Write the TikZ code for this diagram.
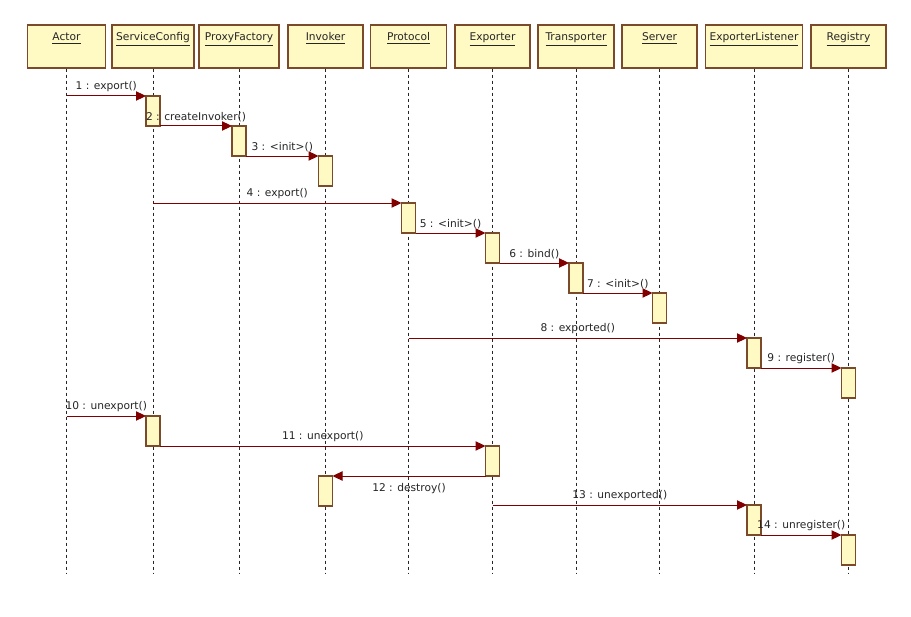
\documentclass[tikz,border=0pt]{standalone}
\usepackage{fontspec}
\setmainfont{DejaVu Sans}
\usetikzlibrary{arrows.meta}
\definecolor{boxfill}{RGB}{255,249,196}
\definecolor{boxline}{RGB}{122,74,42}
\definecolor{msg}{RGB}{128,0,0}
\begin{document}
\begin{tikzpicture}[x=0.75pt,y=-0.75pt,
  hdr/.style={draw=boxline, line width=1.1pt, fill=boxfill, inner sep=0pt,
    text height=12pt, text depth=20.25pt, font=\fontsize{8}{9.6}\selectfont, text=black!85},
  act/.style={draw=boxline, line width=0.8pt, fill=boxfill, minimum width=10.5pt,
    minimum height=22.5pt, inner sep=0pt, outer sep=0pt, anchor=north},
  lifeline/.style={dash pattern=on 2.25pt off 2.25pt, line width=0.75pt, black!85},
  msgarrow/.style={draw=msg, line width=0.75pt, -{Triangle[length=7.5pt,width=7pt]}},
  lbl/.style={font=\fontsize{8}{9.6}\selectfont, text=black!85, inner sep=0pt}]
\useasboundingbox (0,0) rectangle (911,617);
\fill[white] (0,0) rectangle (911,617);
% header boxes
\node[hdr, minimum width=58.5pt]  (actor) at (66.5,46.5)  {\underline{Actor}};
\node[hdr, minimum width=61.5pt]  (sc)    at (153,46.5)   {\underline{ServiceConfig}};
\node[hdr, minimum width=60pt]    (pf)    at (239,46.5)   {\underline{ProxyFactory}};
\node[hdr, minimum width=56.25pt] (inv)   at (325.5,46.5) {\underline{Invoker}};
\node[hdr, minimum width=57pt]    (prot)  at (408.5,46.5) {\underline{Protocol}};
\node[hdr, minimum width=56.25pt] (exp)   at (492.5,46.5) {\underline{Exporter}};
\node[hdr, minimum width=57pt]    (tr)    at (576,46.5)   {\underline{Transporter}};
\node[hdr, minimum width=56.25pt] (srv)   at (659.5,46.5) {\underline{Server}};
\node[hdr, minimum width=72.75pt] (el)    at (754,46.5)   {\underline{ExporterListener}};
\node[hdr, minimum width=56.25pt] (reg)   at (848.5,46.5) {\underline{Registry}};
% lifelines
\foreach \n in {actor,sc,pf,inv,prot,exp,tr,srv,el,reg}
  \draw[lifeline] (\n.south) -- ++(0,505);
% activations
\node[act] (a1)  at (153,96)   {};
\node[act] (a2)  at (239,126)  {};
\node[act] (a3)  at (325.5,156) {};
\node[act] (a4)  at (408.5,203) {};
\node[act] (a5)  at (492.5,233) {};
\node[act] (a6)  at (576,263)  {};
\node[act] (a7)  at (659.5,293) {};
\node[act] (a8)  at (754,338)  {};
\node[act] (a9)  at (848.5,368) {};
\node[act] (a10) at (153,416)  {};
\node[act] (a11) at (492.5,446) {};
\node[act] (a12) at (325.5,476) {};
\node[act] (a13) at (754,505)  {};
\node[act] (a14) at (848.5,535) {};
% free ends on lifelines
\coordinate (s1)  at (66.5,96);
\coordinate (s4)  at (153,203);
\coordinate (s8)  at (408.5,338);
\coordinate (s10) at (66.5,416);
\coordinate (s13) at (492.5,505);
% messages
\draw[msgarrow] (s1) -- (a1.north west) node[lbl, midway, above=3pt] {1 : export()};
\draw[msgarrow] (a1.south east) -- (a2.north west) node[lbl, midway, above=3pt] {2 : createInvoker()};
\draw[msgarrow] (a2.south east) -- (a3.north west) node[lbl, midway, above=3pt] {3 : <init>()};
\draw[msgarrow] (s4) -- (a4.north west) node[lbl, midway, above=3pt] {4 : export()};
\draw[msgarrow] (a4.south east) -- (a5.north west) node[lbl, midway, above=3pt] {5 : <init>()};
\draw[msgarrow] (a5.south east) -- (a6.north west) node[lbl, midway, above=3pt] {6 : bind()};
\draw[msgarrow] (a6.south east) -- (a7.north west) node[lbl, midway, above=3pt] {7 : <init>()};
\draw[msgarrow] (s8) -- (a8.north west) node[lbl, midway, above=3pt] {8 : exported()};
\draw[msgarrow] (a8.south east) -- (a9.north west) node[lbl, midway, above=3pt] {9 : register()};
\draw[msgarrow] (s10) -- (a10.north west) node[lbl, midway, above=3pt] {10 : unexport()};
\draw[msgarrow] (a10.south east) -- (a11.north west) node[lbl, midway, above=3pt] {11 : unexport()};
\draw[msgarrow] (a11.south west) -- (a12.north east) node[lbl, midway, below=5.5pt] {12 : destroy()};
\draw[msgarrow] (s13) -- (a13.north west) node[lbl, midway, above=3pt] {13 : unexported()};
\draw[msgarrow] (a13.south east) -- (a14.north west) node[lbl, midway, above=3pt] {14 : unregister()};
\end{tikzpicture}
\end{document}
